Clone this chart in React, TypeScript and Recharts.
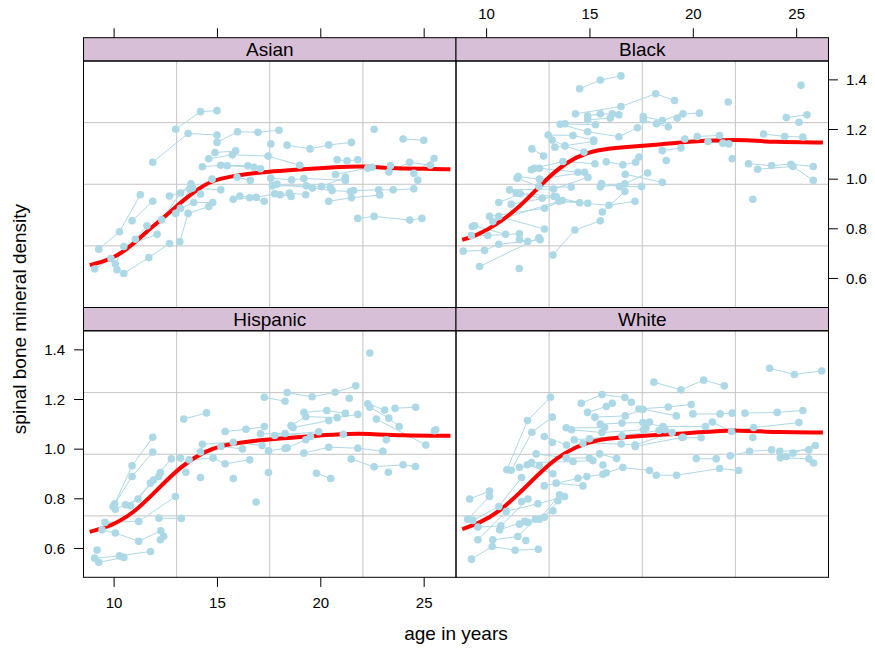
import React from 'react';
import { ComposedChart, Line, XAxis, YAxis, CartesianGrid } from 'recharts';

type Pt = [number, number];

// ---------- data: [age, spinal bmd] per subject ----------
const asianSubjects: Pt[][] = [
  [[12.98, 1.201], [14.18, 1.272], [14.98, 1.276]],
  [[11.87, 1.068], [13.58, 1.184], [14.98, 1.178]],
  [[14.98, 1.148], [15.97, 1.191], [16.96, 1.189], [17.98, 1.197]],
  [[18.37, 1.137], [19.48, 1.122], [20.38, 1.138], [21.48, 1.148]],
  [[14.58, 1.082], [15.72, 1.098], [17.45, 1.093], [18.98, 1.056]],
  [[14.88, 1.107], [15.88, 1.114]],
  [[17.58, 1.142]],
  [[22.58, 1.201]],
  [[23.98, 1.162], [24.98, 1.157]],
  [[20.79, 1.078], [21.27, 1.074], [21.79, 1.078]],
  [[14.27, 1.05], [15.16, 1.056], [16.47, 1.054], [17.08, 1.042]],
  [[15.47, 1.054], [16.77, 1.048]],
  [[22.27, 1.044], [23.37, 1.054]],
  [[23.29, 1.029], [24.3, 1.068], [25.3, 1.056]],
  [[24.5, 1.024], [25.48, 1.083]],
  [[24.69, 0.996]],
  [[14.74, 1.0], [15.95, 1.008], [16.59, 0.995]],
  [[17.58, 1.004], [18.59, 0.997], [19.18, 1.003], [21.19, 0.995]],
  [[20.71, 1.019], [22.48, 1.048]],
  [[20.03, 0.97], [21.19, 1.008]],
  [[9.26, 0.718], [10.26, 0.788], [11.27, 0.937]],
  [[10.87, 0.832], [11.87, 0.911]],
  [[9.06, 0.638], [9.85, 0.68], [11.03, 0.758], [11.59, 0.812]],
  [[10.47, 0.62], [11.68, 0.684], [12.68, 0.741]],
  [[10.06, 0.658], [10.47, 0.729], [12.08, 0.778]],
  [[10.14, 0.635]],
  [[12.3, 0.836], [13.21, 0.944], [13.72, 0.981]],
  [[12.98, 0.862], [13.66, 0.96], [14.18, 0.94]],
  [[12.68, 0.932], [13.79, 0.964], [15.16, 0.957]],
  [[13.21, 0.883], [13.85, 0.906], [14.77, 0.906]],
  [[13.18, 0.748], [13.58, 0.862], [14.58, 0.89]],
  [[15.76, 0.919], [16.56, 0.925], [17.26, 0.911]],
  [[16.08, 0.932], [16.88, 0.927], [17.77, 0.941], [18.56, 0.93]],
  [[18.03, 0.937], [18.48, 0.944], [19.27, 0.937]],
  [[17.66, 0.973], [19.3, 0.973], [20.46, 0.966]],
  [[17.88, 0.98], [19.59, 0.964], [20.55, 0.954], [21.43, 0.95]],
  [[21.59, 0.954], [22.8, 0.957], [23.5, 0.957], [24.5, 0.961]],
  [[20.38, 0.911], [21.48, 0.925], [22.85, 0.936]],
  [[21.79, 0.842], [22.58, 0.85], [24.3, 0.835], [24.89, 0.842]],
];
const asianSmoothAge = [8.82, 9.34, 10.14, 10.95, 11.76, 12.56, 13.37, 14.01, 14.66, 15.3, 15.95, 17.56, 18.85, 19.82, 21.43, 22.4, 23.37, 24.66, 26.27];
const asianSmoothBmd = [0.654, 0.664, 0.689, 0.74, 0.803, 0.856, 0.917, 0.957, 0.991, 1.004, 1.017, 1.031, 1.038, 1.044, 1.051, 1.051, 1.044, 1.042, 1.04];

const blackSubjects: Pt[][] = [
  [[14.5, 1.364], [15.5, 1.399], [16.5, 1.416]],
  [[14.3, 1.263], [16.5, 1.293], [18.18, 1.344], [19.09, 1.317]],
  [[14.89, 1.255], [15.5, 1.263], [16.08, 1.263]],
  [[14.89, 1.239], [15.98, 1.246], [16.4, 1.259]],
  [[17.58, 1.252], [18.5, 1.236], [19.5, 1.263], [20.3, 1.266]],
  [[17.58, 1.239], [18.21, 1.223], [18.79, 1.211]],
  [[19.22, 1.246]],
  [[13.56, 1.221], [14.89, 1.191], [16.4, 1.171], [17.3, 1.207]],
  [[13.79, 1.223], [15.27, 1.219]],
  [[12.98, 1.178], [14.18, 1.176], [15.18, 1.158]],
  [[13.17, 1.158], [13.79, 1.134], [14.71, 1.109]],
  [[13.3, 1.129], [15.18, 1.152]],
  [[12.19, 1.122], [12.76, 1.093]],
  [[12.32, 1.044], [13.69, 1.071], [15.24, 1.062]],
  [[12.16, 1.038], [12.56, 1.044], [14.42, 1.028]],
  [[11.53, 1.011], [12.56, 1.0], [14.74, 1.028]],
  [[11.48, 1.004], [12.53, 0.97], [14.09, 0.968]],
  [[11.11, 0.957], [13.24, 0.96], [14.9, 1.007]],
  [[10.59, 0.906], [11.63, 0.941], [12.69, 0.923]],
  [[11.19, 0.899], [13.26, 0.93], [14.5, 0.905]],
  [[11.43, 0.944], [13.37, 0.93]],
  [[10.14, 0.85], [12.8, 0.883], [13.66, 0.914], [14.89, 0.903]],
  [[10.3, 0.829], [13.5, 0.911], [15.92, 0.895], [17.18, 0.911]],
  [[10.59, 0.85], [12.8, 0.799]],
  [[9.42, 0.812], [10.92, 0.778]],
  [[9.31, 0.809]],
  [[9.26, 0.773], [10.06, 0.773], [11.59, 0.78]],
  [[8.87, 0.71], [9.9, 0.713], [10.59, 0.738], [12.59, 0.756]],
  [[11.59, 0.756], [11.99, 0.749]],
  [[9.66, 0.648], [12.53, 0.764]],
  [[11.58, 0.64]],
  [[13.21, 0.694], [14.27, 0.795], [15.5, 0.832]],
  [[15.6, 0.868], [16.69, 0.95]],
  [[15.56, 0.982], [16.43, 0.97], [17.5, 0.97]],
  [[15.5, 0.969], [16.69, 0.981], [17.79, 1.025]],
  [[16.71, 1.02], [18.5, 0.987]],
  [[15.79, 1.07], [16.59, 1.058], [17.21, 1.068], [17.37, 1.089]],
  [[18.5, 1.115], [19.4, 1.126], [19.59, 1.162]],
  [[18.69, 1.075]],
  [[20.19, 1.172], [21.27, 1.176], [21.72, 1.142]],
  [[20.71, 1.152], [21.43, 1.145]],
  [[21.88, 1.082]],
  [[23.4, 1.182], [24.42, 1.172], [25.3, 1.17]],
  [[22.67, 1.062], [23.79, 1.055], [24.72, 1.06], [25.8, 1.051]],
  [[23.11, 1.04], [24.82, 1.051], [25.8, 0.995]],
  [[22.88, 0.919]],
  [[21.69, 1.311]],
  [[25.21, 1.378]],
  [[24.5, 1.248], [25.5, 1.259]],
  [[25.11, 1.229]],
];
const blackSmoothAge = [8.82, 9.5, 10.47, 11.43, 12.4, 13.37, 14.34, 15.3, 16.59, 18.21, 19.82, 21.43, 22.56, 23.85, 26.27];
const blackSmoothBmd = [0.756, 0.772, 0.816, 0.876, 0.957, 1.038, 1.091, 1.118, 1.129, 1.138, 1.152, 1.158, 1.158, 1.149, 1.148];

const hispanicSubjects: Pt[][] = [
  [[10.03, 0.78], [10.87, 0.933], [11.87, 1.048]],
  [[9.95, 0.769], [10.87, 0.89], [11.87, 0.988]],
  [[10.06, 0.758], [10.55, 0.776], [11.16, 0.799], [12.24, 0.906]],
  [[10.79, 0.772], [11.91, 0.876], [12.16, 0.89]],
  [[11.76, 0.863], [12.77, 0.961]],
  [[9.56, 0.705], [11.19, 0.709], [12.97, 0.809]],
  [[9.42, 0.675], [10.06, 0.662], [11.19, 0.629], [12.26, 0.671]],
  [[12.24, 0.635], [12.4, 0.649]],
  [[12.17, 0.722], [13.25, 0.721]],
  [[9.06, 0.561], [10.26, 0.57], [11.76, 0.588]],
  [[9.26, 0.544], [10.47, 0.564]],
  [[9.18, 0.594]],
  [[13.37, 1.121], [14.47, 1.146]],
  [[13.47, 0.907]],
  [[14.18, 0.886]],
  [[15.77, 0.882]],
  [[17.47, 0.906]],
  [[13.63, 0.957], [14.79, 0.964], [15.37, 0.941], [16.56, 0.957]],
  [[13.21, 0.964]],
  [[14.18, 0.989], [15.17, 1.011], [16.21, 1.001]],
  [[14.27, 1.02], [15.76, 1.028], [17.16, 1.015]],
  [[17.47, 0.993], [18.37, 1.005], [19.27, 1.038]],
  [[19.18, 0.984], [20.38, 1.008], [21.79, 1.004], [23.0, 0.991]],
  [[18.27, 1.003]],
  [[23.17, 1.038]],
  [[15.37, 1.071], [16.38, 1.08], [17.27, 1.091]],
  [[17.08, 1.062], [18.27, 1.063], [19.5, 1.051], [21.09, 1.06]],
  [[17.77, 1.055], [19.9, 1.07]],
  [[18.56, 1.095], [19.27, 1.131], [20.79, 1.127], [21.79, 1.14]],
  [[18.66, 1.087], [20.38, 1.115]],
  [[19.18, 1.148], [20.29, 1.156], [21.19, 1.144]],
  [[17.27, 1.209], [18.27, 1.193]],
  [[18.37, 1.228], [19.58, 1.211], [20.69, 1.229], [21.69, 1.255]],
  [[21.38, 1.205]],
  [[22.37, 1.387]],
  [[22.27, 1.183], [23.09, 1.158]],
  [[23.59, 1.165], [24.59, 1.169]],
  [[22.37, 1.169], [23.29, 1.125], [23.79, 1.091]],
  [[22.69, 1.121], [25.08, 1.017]],
  [[21.47, 0.96], [22.58, 0.929], [23.98, 0.937], [24.58, 0.93]],
  [[23.27, 0.907]],
  [[19.79, 0.903], [20.48, 0.882]],
  [[16.87, 0.787]],
  [[25.5, 1.074], [25.56, 1.078]],
];
const hispanicSmoothAge = [8.82, 9.82, 10.95, 12.08, 13.21, 14.34, 15.3, 16.59, 18.21, 19.82, 21.43, 22.24, 23.85, 26.27];
const hispanicSmoothBmd = [0.667, 0.689, 0.742, 0.836, 0.93, 0.991, 1.017, 1.033, 1.044, 1.055, 1.062, 1.062, 1.055, 1.054];

const whiteSubjects: Pt[][] = [
  [[23.69, 1.326], [24.89, 1.301], [26.21, 1.315]],
  [[18.09, 1.27], [19.4, 1.239], [20.5, 1.278], [21.5, 1.255]],
  [[10.98, 0.917], [11.98, 1.115], [13.09, 1.209]],
  [[11.19, 0.915], [12.19, 1.068], [13.18, 1.129]],
  [[14.58, 1.185], [15.58, 1.22], [16.69, 1.208], [17.0, 1.189]],
  [[14.88, 1.148], [15.79, 1.172], [16.08, 1.185]],
  [[17.37, 1.162], [18.79, 1.17], [19.9, 1.18]],
  [[15.24, 1.129], [16.71, 1.134], [17.56, 1.161], [19.18, 1.134]],
  [[19.98, 1.142], [21.3, 1.142], [21.88, 1.145]],
  [[22.5, 1.145], [24.06, 1.148], [25.3, 1.156]],
  [[15.5, 1.101], [16.55, 1.105], [17.88, 1.109]],
  [[17.56, 1.107], [18.53, 1.091], [20.59, 1.091]],
  [[20.92, 1.109], [21.85, 1.071], [22.92, 1.087], [25.11, 1.107]],
  [[18.63, 1.078], [19.46, 1.047], [20.38, 1.046]],
  [[22.88, 1.047]],
  [[13.85, 1.086], [15.71, 1.087]],
  [[14.11, 1.078], [15.58, 1.067], [17.59, 1.078]],
  [[14.24, 1.038], [14.98, 1.042], [16.55, 1.054], [18.34, 1.075]],
  [[14.66, 1.024], [16.51, 1.021], [17.19, 1.017], [18.97, 1.067]],
  [[17.19, 1.011], [19.5, 1.048]],
  [[17.71, 1.085]],
  [[12.79, 1.051], [13.87, 1.017]],
  [[13.18, 1.027]],
  [[12.4, 0.981], [13.85, 0.965], [14.98, 0.964]],
  [[12.18, 0.946], [14.18, 0.95], [15.14, 0.954]],
  [[11.97, 0.937], [13.21, 0.901]],
  [[11.59, 0.927], [12.56, 0.934]],
  [[15.47, 0.981], [16.29, 0.962]],
  [[15.63, 0.936]],
  [[15.79, 0.905], [16.59, 0.926], [17.88, 0.914]],
  [[18.21, 0.895], [19.19, 0.895], [21.27, 0.922], [22.19, 0.914]],
  [[14.42, 0.883], [15.63, 0.899]],
  [[13.37, 0.863], [14.66, 0.852]],
  [[12.79, 0.852], [14.85, 0.89]],
  [[20.14, 0.962], [21.11, 0.961]],
  [[21.79, 0.973], [22.72, 0.991], [23.79, 0.997]],
  [[24.18, 0.991], [25.59, 0.997]],
  [[24.82, 0.984], [25.9, 1.015]],
  [[24.21, 0.965], [25.59, 0.961], [25.82, 0.944]],
  [[24.5, 0.97]],
  [[9.18, 0.799], [10.14, 0.831]],
  [[9.09, 0.718], [10.14, 0.809]],
  [[9.34, 0.713], [10.59, 0.769], [11.69, 0.886]],
  [[9.58, 0.686], [10.69, 0.691], [12.0, 0.799]],
  [[10.63, 0.675], [11.84, 0.709], [12.79, 0.726], [13.45, 0.792]],
  [[9.58, 0.635], [10.95, 0.749], [12.48, 0.78], [13.77, 0.809]],
  [[10.3, 0.635], [11.51, 0.648], [12.37, 0.718], [13.21, 0.752]],
  [[11.59, 0.698], [12.56, 0.718], [13.53, 0.816]],
  [[9.27, 0.557], [10.27, 0.608], [11.38, 0.593], [12.5, 0.597]],
  [[11.9, 0.632]],
  [[12.0, 0.705]],
  [[11.69, 0.789]],
];
const whiteSmoothAge = [8.82, 9.66, 10.63, 11.59, 12.56, 13.37, 14.34, 15.3, 16.59, 18.21, 19.82, 21.43, 22.24, 23.05, 24.02, 26.27];
const whiteSmoothBmd = [0.678, 0.702, 0.749, 0.823, 0.903, 0.964, 1.011, 1.038, 1.048, 1.058, 1.064, 1.075, 1.075, 1.073, 1.068, 1.067];

const ageTicks = [10, 15, 20, 25];
const bmdTicks = [0.6, 0.8, 1.0, 1.2, 1.4];
const AGE_DOMAIN: [number, number] = [8.52, 26.54];
const BMD_DOMAIN: [number, number] = [0.483, 1.476];

// ---------- layout ----------
const W = 875;
const H = 651;
const LX = 83.5;
const RX = 456;
const PW = 372.5;
const TOP_STRIP = 37.7;
const TOP_Y = 61;
const BOT_STRIP = 307.5;
const BOT_Y = 331;
const PH = 246.5;
const STRIP_H = 23.3;
const TICK = 9.4;
const FONT = '"Liberation Sans", Arial, Helvetica, sans-serif';
const PT_COL = '#ADD8E6';

const toRows = (pts: Pt[]) => pts.map(([age, bmd]) => ({ age, bmd }));

const makeTopTick = (showLabel: boolean) => (props: any) => {
  const { x, y, payload } = props;
  const stripTop = y - STRIP_H;
  return (
    <g>
      <line x1={x} x2={x} y1={stripTop} y2={stripTop - TICK} stroke="#000" strokeWidth={1} />
      {showLabel && (
        <text x={x} y={stripTop - TICK - 9} textAnchor="middle" fontSize={15} fill="#000" fontFamily={FONT}>
          {payload.value}
        </text>
      )}
    </g>
  );
};

type PanelProps = {
  subjects: Pt[][];
  smoothAge: number[];
  smoothBmd: number[];
  left: number;
  top: number;
  xSide: 'top' | 'bottom';
  xLabels: boolean;
  ySide: 'left' | 'right';
  yLabels: boolean;
};

function Panel({ subjects, smoothAge, smoothBmd, left, top, xSide, xLabels, ySide, yLabels }: PanelProps) {
  const smooth = smoothAge.map((a, i) => ({ age: a, bmd: smoothBmd[i] }));
  const xH = 30;
  const yW = 40;
  const margin = {
    left: ySide === 'left' ? left - yW : left,
    right: ySide === 'right' ? W - (left + PW) - yW : W - (left + PW),
    top: xSide === 'top' ? top - xH : top,
    bottom: xSide === 'bottom' ? H - (top + PH) - xH : H - (top + PH),
  };
  return (
    <div style={{ position: 'absolute', left: 0, top: 0 }}>
      <ComposedChart width={W} height={H} margin={margin}>
        <CartesianGrid
          stroke="#C4C4C4"
          strokeWidth={1}
          verticalCoordinatesGenerator={({ offset }: any) => [1, 2, 3].map((k) => offset.left + (offset.width * k) / 4)}
          horizontalCoordinatesGenerator={({ offset }: any) => [1, 2, 3].map((k) => offset.top + (offset.height * k) / 4)}
        />
        {xSide === 'top' ? (
          <XAxis
            type="number"
            dataKey="age"
            domain={AGE_DOMAIN}
            allowDataOverflow
            ticks={ageTicks}
            interval={0}
            orientation="top"
            height={xH}
            axisLine={false}
            tickLine={false}
            tickSize={0}
            tickMargin={0}
            tick={makeTopTick(xLabels)}
          />
        ) : (
          <XAxis
            type="number"
            dataKey="age"
            domain={AGE_DOMAIN}
            allowDataOverflow
            ticks={ageTicks}
            interval={0}
            orientation="bottom"
            height={xH}
            axisLine={false}
            tickLine={{ stroke: '#000', strokeWidth: 1 }}
            tickSize={TICK}
            tickMargin={10}
            tick={xLabels ? { fontSize: 15, fill: '#000', fontFamily: FONT } : false}
          />
        )}
        <YAxis
          type="number"
          domain={BMD_DOMAIN}
          allowDataOverflow
          ticks={bmdTicks}
          interval={0}
          orientation={ySide}
          width={yW}
          axisLine={false}
          tickLine={{ stroke: '#000', strokeWidth: 1 }}
          tickSize={TICK}
          tickMargin={ySide === 'left' ? 9 : 8}
          tickFormatter={(v: number) => v.toFixed(1)}
          tick={yLabels ? { fontSize: 15, fill: '#000', fontFamily: FONT } : false}
        />
        {subjects.map((s, i) => (
          <Line
            key={i}
            data={toRows(s)}
            dataKey="bmd"
            type="linear"
            stroke={PT_COL}
            strokeWidth={1}
            dot={{ r: 3.8, fill: PT_COL, stroke: 'none' }}
            activeDot={false}
            isAnimationActive={false}
          />
        ))}
        <Line
          data={smooth}
          dataKey="bmd"
          type="basis"
          stroke="#FF0000"
          strokeWidth={4}
          dot={false}
          activeDot={false}
          isAnimationActive={false}
        />
      </ComposedChart>
    </div>
  );
}

export default function App() {
  const strips = [
    { x: LX, y: TOP_STRIP, label: 'Asian' },
    { x: RX, y: TOP_STRIP, label: 'Black' },
    { x: LX, y: BOT_STRIP, label: 'Hispanic' },
    { x: RX, y: BOT_STRIP, label: 'White' },
  ];
  return (
    <div style={{ position: 'absolute', left: 0, top: 0, width: W, height: H, background: '#fff', fontFamily: FONT }}>
      <Panel subjects={asianSubjects} smoothAge={asianSmoothAge} smoothBmd={asianSmoothBmd} left={LX} top={TOP_Y} xSide="top" xLabels={false} ySide="left" yLabels={false} />
      <Panel subjects={blackSubjects} smoothAge={blackSmoothAge} smoothBmd={blackSmoothBmd} left={RX} top={TOP_Y} xSide="top" xLabels={true} ySide="right" yLabels={true} />
      <Panel subjects={hispanicSubjects} smoothAge={hispanicSmoothAge} smoothBmd={hispanicSmoothBmd} left={LX} top={BOT_Y} xSide="bottom" xLabels={true} ySide="left" yLabels={true} />
      <Panel subjects={whiteSubjects} smoothAge={whiteSmoothAge} smoothBmd={whiteSmoothBmd} left={RX} top={BOT_Y} xSide="bottom" xLabels={false} ySide="right" yLabels={false} />
      <svg width={W} height={H} style={{ position: 'absolute', left: 0, top: 0, pointerEvents: 'none' }}>
        {strips.map((s) => (
          <g key={s.label}>
            <rect x={s.x} y={s.y} width={PW} height={STRIP_H} fill="#D8BFD8" stroke="#000" strokeWidth={1} />
            <text x={s.x + PW / 2} y={s.y + 18} textAnchor="middle" fontSize={19} fill="#000" fontFamily={FONT}>
              {s.label}
            </text>
            <rect x={s.x} y={s.y + STRIP_H} width={PW} height={PH} fill="none" stroke="#000" strokeWidth={1} />
          </g>
        ))}
        <text x={456} y={640} textAnchor="middle" fontSize={19} fill="#000" fontFamily={FONT}>
          age in years
        </text>
        <text
          x={0}
          y={0}
          transform={`translate(26, 319) rotate(-90)`}
          textAnchor="middle"
          fontSize={19}
          fill="#000"
          fontFamily={FONT}
        >
          spinal bone mineral density
        </text>
      </svg>
    </div>
  );
}
